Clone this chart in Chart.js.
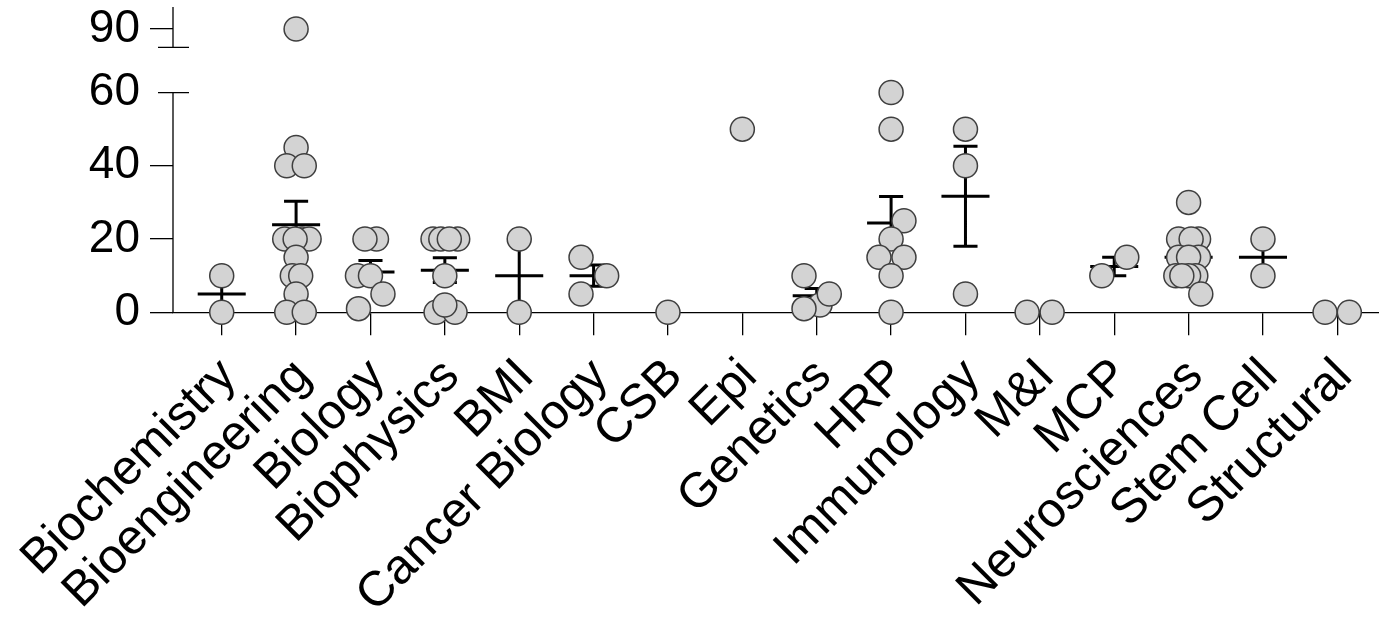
<!DOCTYPE html>
<html>
<head>
<meta charset="utf-8">
<script src="https://cdn.jsdelivr.net/npm/chart.js@4.4.1/dist/chart.umd.min.js"></script>
<style>
  html, body { margin: 0; padding: 0; background: #ffffff; }
  #wrap { width: 1379px; height: 617px; position: relative; }
</style>
</head>
<body>
<div id="wrap"><canvas id="c" width="1379" height="617"></canvas></div>
<script>
// ---------------- data ----------------
const categories = ['Biochemistry', 'Bioengineering', 'Biology', 'Biophysics', 'BMI', 'Cancer Biology',
  'CSB', 'Epi', 'Genetics', 'HRP', 'Immunology', 'M&I', 'MCP', 'Neurosciences', 'Stem Cell', 'Structural'];

const biochemistry   = [10, 0];
const bioengineering = [90, 45, 40, 40, 20, 20, 20, 20, 15, 10, 10, 5, 0, 0];
const biology        = [20, 20, 10, 10, 5, 1];
const biophysics     = [20, 20, 20, 20, 10, 0, 0, 2];
const bmi            = [20, 0];
const cancerBiology  = [15, 10, 5];
const csb            = [0];
const epi            = [50];
const genetics       = [2, 10, 5, 1];
const hrp            = [60, 50, 25, 20, 15, 15, 10, 0];
const immunology     = [50, 40, 5];
const mi             = [0, 0];
const mcp            = [15, 10];
const neurosciences  = [30, 20, 20, 20, 15, 15, 15, 10, 10, 10, 10, 5];
const stemCell       = [20, 10];
const structural     = [0, 0];

const yTicks = [0, 20, 40, 60, 90];

// horizontal scatter of the dots (fraction of one category step)
const jitter = [
  [0, 0],
  [0, 0, -0.126, 0.110, -0.153, 0.081, 0.175, -0.013, 0, -0.051, 0.062, 0, -0.126, 0.110],
  [0.081, -0.074, -0.175, 0, 0.168, -0.161],
  [-0.159, -0.054, 0.173, 0.060, 0, -0.118, 0.137, 0],
  [0, 0],
  [-0.169, 0.176, -0.169],
  [0],
  [0],
  [0.044, -0.171, 0.169, -0.171],
  [0, 0, 0.173, 0, -0.163, 0.173, 0, 0],
  [0, 0, 0],
  [-0.171, 0.165],
  [0.169, -0.167],
  [0, -0.134, 0.134, 0.034, -0.134, 0.134, 0, -0.172, 0.097, 0, -0.091, 0.164],
  [0, 0],
  [-0.165, 0.161]
];

const groups = [biochemistry, bioengineering, biology, biophysics, bmi, cancerBiology, csb, epi,
  genetics, hrp, immunology, mi, mcp, neurosciences, stemCell, structural];

// axis break (values between BREAK_LOW and BREAK_HIGH are squeezed into BREAK_GAP units)
const BREAK_LOW = 60, BREAK_HIGH = 85, BREAK_GAP = 12.35;

// ---------------- broken linear scale ----------------
class BrokenScale extends Chart.LinearScale {
  static id = 'broken';
  static defaults = Chart.LinearScale.defaults;
  _virt(v) {
    if (v <= BREAK_LOW) return v;
    if (v >= BREAK_HIGH) return v - (BREAK_HIGH - BREAK_LOW) + BREAK_GAP;
    return BREAK_LOW + (v - BREAK_LOW) / (BREAK_HIGH - BREAK_LOW) * BREAK_GAP;
  }
  _unvirt(w) {
    if (w <= BREAK_LOW) return w;
    if (w >= BREAK_LOW + BREAK_GAP) return w + (BREAK_HIGH - BREAK_LOW) - BREAK_GAP;
    return BREAK_LOW + (w - BREAK_LOW) / BREAK_GAP * (BREAK_HIGH - BREAK_LOW);
  }
  getPixelForValue(value) {
    if (value === null || value === undefined || isNaN(value)) return NaN;
    const a = this._virt(this.min), b = this._virt(this.max);
    return this.getPixelForDecimal((this._virt(value) - a) / (b - a));
  }
  getValueForPixel(pixel) {
    const a = this._virt(this.min), b = this._virt(this.max);
    return this._unvirt(a + this.getDecimalForPixel(pixel) * (b - a));
  }
}
Chart.register(BrokenScale);

// ---------------- derived marks ----------------
const dots = [];
groups.forEach((g, i) => g.forEach((v, k) => dots.push({ x: i + jitter[i][k], y: v })));

const MEAN_HALF = 0.323, CAP_HALF = 0.162;
const barPts = [];
groups.forEach((g, i) => {
  if (g.length < 2) return;
  const n = g.length;
  const m = g.reduce((s, v) => s + v, 0) / n;
  const sd = Math.sqrt(g.reduce((s, v) => s + (v - m) * (v - m), 0) / (n - 1));
  const se = sd / Math.sqrt(n);
  barPts.push({ x: i - MEAN_HALF, y: m }, { x: i + MEAN_HALF, y: m }, { x: i, y: null });
  barPts.push({ x: i, y: m - se }, { x: i, y: m + se }, { x: i, y: null });
  barPts.push({ x: i - CAP_HALF, y: m + se }, { x: i + CAP_HALF, y: m + se }, { x: i, y: null });
  barPts.push({ x: i - CAP_HALF, y: m - se }, { x: i + CAP_HALF, y: m - se }, { x: i, y: null });
});

// ---------------- axis line plugin (broken y axis) ----------------
const brokenAxis = {
  id: 'brokenAxis',
  beforeDatasetsDraw(chart) {
    const { ctx, chartArea, scales: { y } } = chart;
    const x0 = chartArea.left;
    const p0 = y.getPixelForValue(0), p60 = y.getPixelForValue(BREAK_LOW), p85 = y.getPixelForValue(BREAK_HIGH);
    ctx.save();
    ctx.strokeStyle = '#000';
    ctx.lineWidth = 1.3;
    ctx.beginPath();
    ctx.moveTo(x0, p0); ctx.lineTo(x0, p60);
    ctx.moveTo(x0, p85); ctx.lineTo(x0, chartArea.top);
    ctx.moveTo(x0 - 15, p60); ctx.lineTo(x0 + 16, p60);
    ctx.moveTo(x0 - 15, p85); ctx.lineTo(x0 + 16, p85);
    ctx.stroke();
    ctx.restore();
  }
};

Chart.defaults.font.family = '"Liberation Sans", Arial, sans-serif';
Chart.defaults.color = '#000';

new Chart(document.getElementById('c'), {
  type: 'scatter',
  data: {
    datasets: [
      {
        type: 'scatter',
        data: dots,
        pointRadius: 12,
        pointBorderWidth: 1.5,
        pointBackgroundColor: '#d3d3d3',
        pointBorderColor: '#3f3f3f',
        pointHoverRadius: 12,
        clip: false,
        order: 0
      },
      {
        type: 'line',
        data: barPts,
        borderColor: '#000',
        borderWidth: 3,
        borderCapStyle: 'butt',
        pointRadius: 0,
        pointHoverRadius: 0,
        spanGaps: false,
        tension: 0,
        fill: false,
        clip: false,
        order: 1
      }
    ]
  },
  options: {
    responsive: false,
    animation: false,
    events: [],
    devicePixelRatio: 1,
    layout: { autoPadding: false, padding: { top: 7, left: 0, right: 0, bottom: 0 } },
    plugins: { legend: { display: false }, tooltip: { enabled: false } },
    scales: {
      x: {
        type: 'linear',
        position: 'bottom',
        min: -0.655,
        max: 15.56,
        afterBuildTicks: s => { s.ticks = categories.map((_, i) => ({ value: i })); },
        afterFit: s => { s.height = 617 - 312.3; s.paddingLeft = 0; s.paddingRight = 0; },
        grid: { display: true, drawOnChartArea: false, drawTicks: true, tickLength: 23, color: '#000', lineWidth: 1.3 },
        border: { display: true, color: '#000', width: 1.3 },
        ticks: {
          autoSkip: false,
          maxRotation: 45,
          minRotation: 45,
          padding: 16,
          labelOffset: 7,
          color: '#000',
          font: { size: 49, lineHeight: 1 },
          callback: v => categories[v]
        }
      },
      y: {
        type: 'broken',
        position: 'left',
        min: 0,
        max: 96,
        afterBuildTicks: s => { s.ticks = yTicks.map(v => ({ value: v })); },
        afterFit: s => { s.width = 173; s.paddingTop = 0; s.paddingBottom = 0; },
        grid: {
          display: true, drawOnChartArea: false, drawTicks: true, tickLength: 23, lineWidth: 1.3,
          color: c => (c.tick && c.tick.value === BREAK_LOW) ? 'rgba(0,0,0,0)' : '#000'
        },
        border: { display: false },
        ticks: {
          autoSkip: false,
          padding: 10,
          color: '#000',
          font: { size: 46, lineHeight: 1 },
          callback: v => String(v)
        }
      }
    }
  },
  plugins: [brokenAxis]
});
</script>
</body>
</html>
